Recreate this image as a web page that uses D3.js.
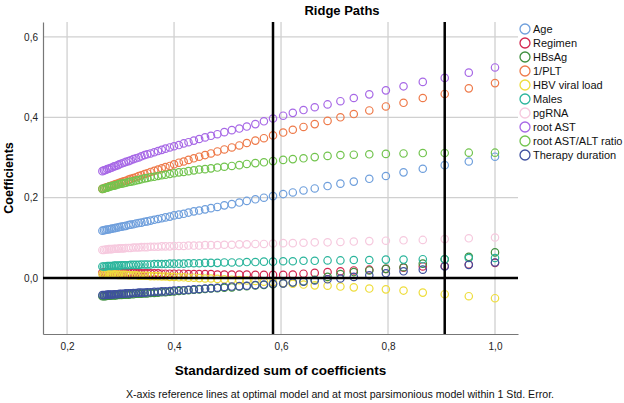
<!DOCTYPE html>
<html>
<head>
<meta charset="utf-8">
<script src="https://cdn.jsdelivr.net/npm/d3@7"></script>
<style>
  body{margin:0;background:#fff;}
  svg{font-family:"Liberation Sans",Arial,sans-serif;}
</style>
</head>
<body>
<svg id="chart" width="624" height="403"></svg>
<script>
// standardized sum of coefficients at each ridge step
var sums=[0.266,0.269,0.272,0.275,0.278,0.281,0.284,0.288,0.291,0.295,
  0.298,0.302,0.306,0.310,0.315,0.319,0.324,0.329,0.334,0.339,
  0.345,0.350,0.356,0.363,0.370,0.377,0.384,0.392,0.400,0.409,
  0.418,0.427,0.437,0.447,0.458,0.469,0.481,0.494,0.508,0.522,
  0.536,0.552,0.568,0.585,0.604,0.622,0.642,0.663,0.687,0.711,
  0.736,0.765,0.796,0.829,0.865,0.906,0.951,1.000];

var names=['Age','Regimen','HBsAg','1/PLT','HBV viral load','Males','pgRNA','root AST','root AST/ALT ratio','Therapy duration'];
var colors=['#6f9fdc','#d3264f','#3f8f3f','#ee7a4a','#eedd3c','#2bb59c','#f6c9de','#a768e6','#72c44e','#3f509f'];

var age=[0.118,0.119,0.120,0.121,0.121,0.122,0.123,0.124,0.125,0.126,
  0.127,0.128,0.129,0.130,0.132,0.133,0.134,0.136,0.137,0.138,
  0.140,0.141,0.143,0.145,0.147,0.149,0.151,0.153,0.156,0.158,
  0.160,0.163,0.166,0.168,0.171,0.174,0.177,0.181,0.184,0.188,
  0.192,0.196,0.200,0.204,0.209,0.213,0.218,0.223,0.229,0.235,
  0.240,0.247,0.254,0.263,0.272,0.281,0.290,0.302];
var regimen=[0.014,0.014,0.014,0.014,0.014,0.014,0.014,0.013,0.013,0.013,
  0.013,0.013,0.013,0.013,0.013,0.013,0.013,0.012,0.012,0.012,
  0.012,0.012,0.012,0.012,0.012,0.011,0.011,0.011,0.011,0.011,
  0.011,0.010,0.010,0.010,0.010,0.010,0.009,0.009,0.009,0.009,
  0.009,0.008,0.008,0.008,0.008,0.009,0.011,0.013,0.015,0.017,
  0.019,0.021,0.023,0.026,0.029,0.030,0.034,0.038];
var hbsag=[-0.045,-0.045,-0.045,-0.044,-0.044,-0.044,-0.043,-0.043,-0.043,-0.042,
  -0.042,-0.042,-0.041,-0.041,-0.041,-0.040,-0.040,-0.039,-0.039,-0.039,
  -0.038,-0.038,-0.037,-0.037,-0.036,-0.035,-0.035,-0.034,-0.033,-0.032,
  -0.031,-0.030,-0.029,-0.028,-0.027,-0.026,-0.025,-0.024,-0.023,-0.021,
  -0.020,-0.018,-0.017,-0.015,-0.013,-0.011,-0.008,-0.004,0.003,0.010,
  0.015,0.019,0.023,0.027,0.036,0.047,0.053,0.064];
var plt=[0.222,0.223,0.225,0.226,0.228,0.229,0.230,0.232,0.234,0.235,
  0.237,0.239,0.241,0.242,0.245,0.247,0.249,0.251,0.254,0.256,
  0.259,0.261,0.264,0.267,0.270,0.273,0.276,0.279,0.283,0.287,
  0.290,0.294,0.298,0.302,0.306,0.310,0.315,0.320,0.325,0.330,
  0.336,0.342,0.348,0.355,0.362,0.369,0.376,0.383,0.391,0.400,
  0.408,0.417,0.427,0.436,0.448,0.458,0.472,0.485];
var hbv=[0.010,0.010,0.010,0.010,0.009,0.009,0.009,0.009,0.009,0.008,
  0.008,0.008,0.008,0.008,0.007,0.007,0.007,0.007,0.006,0.006,
  0.006,0.006,0.005,0.005,0.005,0.004,0.004,0.003,0.003,0.002,
  0.002,0.001,0.001,0.000,-0.001,-0.001,-0.002,-0.003,-0.004,-0.005,
  -0.006,-0.007,-0.009,-0.010,-0.012,-0.014,-0.016,-0.018,-0.019,-0.021,
  -0.023,-0.026,-0.028,-0.031,-0.036,-0.040,-0.045,-0.050];
var males=[0.029,0.029,0.029,0.030,0.030,0.030,0.030,0.031,0.031,0.031,
  0.031,0.032,0.032,0.032,0.032,0.033,0.033,0.033,0.033,0.034,
  0.034,0.034,0.034,0.035,0.035,0.035,0.035,0.036,0.036,0.036,
  0.036,0.037,0.037,0.037,0.038,0.038,0.038,0.039,0.039,0.039,
  0.040,0.040,0.041,0.041,0.042,0.042,0.043,0.043,0.044,0.044,
  0.045,0.045,0.046,0.046,0.047,0.047,0.050,0.050];
var pgrna=[0.070,0.070,0.071,0.071,0.072,0.072,0.072,0.073,0.073,0.073,
  0.074,0.074,0.074,0.075,0.075,0.075,0.076,0.076,0.076,0.077,
  0.077,0.077,0.078,0.078,0.078,0.079,0.079,0.079,0.080,0.080,
  0.080,0.081,0.081,0.081,0.082,0.082,0.082,0.083,0.083,0.084,
  0.084,0.085,0.085,0.086,0.087,0.087,0.088,0.089,0.089,0.090,
  0.091,0.092,0.093,0.094,0.095,0.097,0.099,0.101];
var ast=[0.266,0.268,0.269,0.271,0.272,0.274,0.275,0.278,0.279,0.281,
  0.283,0.285,0.287,0.289,0.291,0.293,0.296,0.298,0.300,0.303,
  0.306,0.308,0.310,0.313,0.316,0.319,0.322,0.325,0.328,0.331,
  0.335,0.338,0.342,0.346,0.350,0.354,0.358,0.363,0.368,0.372,
  0.377,0.383,0.390,0.397,0.404,0.411,0.418,0.425,0.432,0.440,
  0.448,0.457,0.467,0.477,0.488,0.498,0.511,0.524];
var astAlt=[0.222,0.223,0.224,0.225,0.227,0.228,0.229,0.230,0.231,0.233,
  0.234,0.235,0.236,0.237,0.239,0.240,0.241,0.243,0.244,0.246,
  0.248,0.249,0.251,0.252,0.254,0.256,0.257,0.259,0.261,0.263,
  0.264,0.266,0.268,0.270,0.271,0.273,0.275,0.277,0.279,0.281,
  0.284,0.286,0.288,0.291,0.294,0.296,0.298,0.301,0.304,0.306,
  0.307,0.308,0.309,0.310,0.311,0.311,0.312,0.312];
var therapy=[-0.042,-0.042,-0.042,-0.041,-0.041,-0.041,-0.041,-0.040,-0.040,-0.040,
  -0.039,-0.039,-0.039,-0.038,-0.038,-0.038,-0.037,-0.037,-0.036,-0.036,
  -0.036,-0.035,-0.035,-0.034,-0.034,-0.033,-0.033,-0.032,-0.031,-0.030,
  -0.030,-0.029,-0.028,-0.027,-0.026,-0.025,-0.024,-0.022,-0.021,-0.020,
  -0.019,-0.017,-0.016,-0.014,-0.013,-0.011,-0.009,-0.006,-0.003,-0.001,
  0.003,0.007,0.012,0.017,0.021,0.029,0.033,0.039];

var xTicks=[0.2,0.4,0.6,0.8,1.0];
var yTicks=[0.0,0.2,0.4,0.6];
var refLines=[0.585,0.906];

var series=[age,regimen,hbsag,plt,hbv,males,pgrna,ast,astAlt,therapy];

var svg=d3.select('#chart');
var pLeft=43, pRight=518, pTop=22, pBottom=334;
var x=d3.scaleLinear().domain([0.155,1.043]).range([pLeft,pRight]);
var y=d3.scaleLinear().domain([-0.139,0.637]).range([pBottom,pTop]);
var comma=function(d){return d3.format('.1f')(d).replace('.',',');};

// grid
svg.append('g').selectAll('line').data(xTicks).join('line')
  .attr('x1',d=>x(d)).attr('x2',d=>x(d)).attr('y1',pTop).attr('y2',pBottom)
  .attr('stroke','#d0d0d0').attr('stroke-width',1.3);
svg.append('g').selectAll('line').data(yTicks.filter(d=>d!==0)).join('line')
  .attr('x1',pLeft).attr('x2',pRight).attr('y1',d=>y(d)).attr('y2',d=>y(d))
  .attr('stroke','#d0d0d0').attr('stroke-width',1.3);

// axes
var xAxis=svg.append('g').attr('transform','translate(0,'+pBottom+')')
  .call(d3.axisBottom(x).tickValues(xTicks).tickFormat(comma).tickSize(0).tickPadding(9));
var yAxis=svg.append('g').attr('transform','translate('+pLeft+',0)')
  .call(d3.axisLeft(y).tickValues(yTicks).tickFormat(comma).tickSize(0).tickPadding(5));
[xAxis,yAxis].forEach(function(a){
  a.select('.domain').attr('stroke','#777').attr('stroke-width',1.2);
  a.selectAll('text').attr('font-size',10).attr('fill','#222')
    .attr('font-family','"Liberation Sans",Arial,sans-serif');
});

// points
series.forEach(function(vals,i){
  svg.append('g').selectAll('circle').data(vals).join('circle')
    .attr('cx',(d,j)=>x(sums[j])).attr('cy',d=>y(d)).attr('r',3.7)
    .attr('fill','none').attr('stroke',colors[i]).attr('stroke-width',1.2);
});

// reference lines
svg.append('line').attr('x1',pLeft).attr('x2',pRight).attr('y1',y(0)).attr('y2',y(0))
  .attr('stroke','#000').attr('stroke-width',2.5);
svg.append('g').selectAll('line').data(refLines).join('line')
  .attr('x1',d=>x(d)).attr('x2',d=>x(d)).attr('y1',pTop).attr('y2',pBottom)
  .attr('stroke','#000').attr('stroke-width',2.5);

// titles
svg.append('text').attr('x',342).attr('y',15).attr('text-anchor','middle')
  .attr('font-size',13).attr('font-weight','bold').text('Ridge Paths');
svg.append('text').attr('transform','translate(13,'+((pTop+pBottom)/2)+') rotate(-90)')
  .attr('text-anchor','middle').attr('font-size',12.5).attr('font-weight','bold').text('Coefficients');
svg.append('text').attr('x',(pLeft+pRight)/2).attr('y',375).attr('text-anchor','middle')
  .attr('font-size',13.5).attr('font-weight','bold').text('Standardized sum of coefficients');
svg.append('text').attr('x',340).attr('y',398).attr('text-anchor','middle')
  .attr('font-size',10.6).attr('fill','#111')
  .text('X-axis reference lines at optimal model and at most parsimonious model within 1 Std. Error.');

// legend
var lg=svg.append('g').selectAll('g').data(names).join('g')
  .attr('transform',(d,i)=>'translate(525,'+(29+i*14)+')');
lg.append('circle').attr('r',5).attr('fill','none').attr('stroke',(d,i)=>colors[i]).attr('stroke-width',1.3);
lg.append('text').attr('x',8).attr('y',4).attr('font-size',11).attr('fill','#111').text(d=>d);
</script>
</body>
</html>
